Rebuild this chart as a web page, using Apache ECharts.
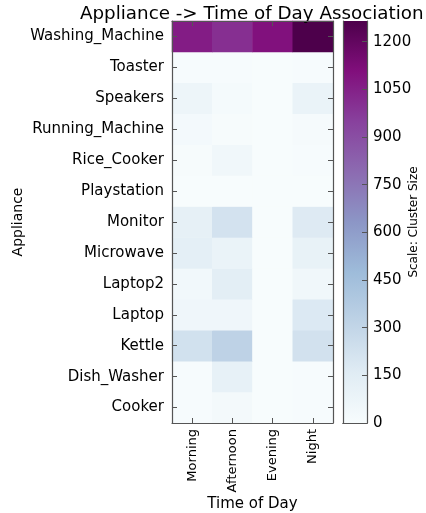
<!DOCTYPE html>
<html>
<head>
<meta charset="utf-8">
<script src="https://cdn.jsdelivr.net/npm/echarts@6/dist/echarts.min.js"></script>
<style>
  html, body { margin: 0; padding: 0; background: #ffffff; }
  #chart { width: 426px; height: 513px; }
</style>
</head>
<body>
<div id="chart"></div>
<script>
// 时段
const times = ['Morning', 'Afternoon', 'Evening', 'Night']
// 电器（从下往上）
const appliances = ['Cooker', 'Dish_Washer', 'Kettle', 'Laptop', 'Laptop2', 'Microwave', 'Monitor',
  'Playstation', 'Rice_Cooker', 'Running_Machine', 'Speakers', 'Toaster', 'Washing_Machine']

// 每个电器在四个时段的聚类大小
const cooker = [5, 30, 2, 5]
const dishWasher = [5, 110, 2, 5]
const kettle = [230, 320, 3, 225]
const laptop = [55, 55, 3, 175]
const laptop2 = [40, 140, 3, 45]
const microwave = [130, 90, 3, 100]
const monitor = [120, 220, 3, 170]
const playstation = [3, 3, 2, 3]
const riceCooker = [10, 45, 2, 8]
const runningMachine = [25, 10, 3, 15]
const speakers = [70, 20, 3, 90]
const toaster = [5, 5, 2, 5]
const washingMachine = [1065, 1005, 1100, 1265]

const rows = [cooker, dishWasher, kettle, laptop, laptop2, microwave, monitor,
  playstation, riceCooker, runningMachine, speakers, toaster, washingMachine]

// 色标刻度
const scaleMax = 1265
const scaleStep = 150

// BuPu 配色
const bupu = ['#f7fcfd', '#e0ecf4', '#bfd3e6', '#9ebcda', '#8c96c6', '#8c6bb1', '#88419d', '#810f7c', '#4d004b']

const heatData = []
rows.forEach((r, yi) => {
  r.forEach((v, xi) => {
    heatData.push([xi, yi, v])
  })
})

const font = 'DejaVu Sans'
const frame = { show: true, lineStyle: { color: '#555555', width: 1.2 } }
const inTick = { show: true, inside: true, length: 5, alignWithLabel: true, lineStyle: { color: '#555555' } }

const myChart = echarts.init(document.getElementById('chart'))

const options = {
  animation: false,
  textStyle: { fontFamily: font },
  title: {
    text: 'Appliance -> Time of Day Association',
    left: 75,
    top: 0,
    textStyle: { fontFamily: font, fontSize: 18.3, fontWeight: 'normal', color: '#000000' }
  },
  grid: [
    { left: 172, top: 21, width: 161, height: 402, outerBoundsMode: 'none', containLabel: false },
    { left: 343, top: 21, width: 24, height: 402, outerBoundsMode: 'none', containLabel: false }
  ],
  xAxis: [
    {
      type: 'category',
      gridIndex: 0,
      data: times,
      position: 'bottom',
      z: 10,
      axisLine: frame,
      axisTick: inTick,
      axisLabel: { rotate: 90, fontSize: 13, color: '#000000', margin: 6, fontFamily: font },
      name: 'Time of Day',
      nameLocation: 'middle',
      nameGap: 74,
      nameMoveOverlap: false,
      nameTextStyle: { fontSize: 15, color: '#000000', fontFamily: font },
      splitLine: { show: false }
    },
    {
      type: 'category',
      gridIndex: 0,
      data: times,
      position: 'top',
      z: 10,
      axisLine: frame,
      axisTick: inTick,
      axisLabel: { show: false }
    },
    {
      type: 'category',
      gridIndex: 1,
      data: ['scale'],
      z: 10,
      axisLine: frame,
      axisTick: { show: false },
      axisLabel: { show: false }
    },
    {
      type: 'category',
      gridIndex: 1,
      data: ['scale'],
      position: 'top',
      z: 10,
      axisLine: frame,
      axisTick: { show: false },
      axisLabel: { show: false }
    }
  ],
  yAxis: [
    {
      type: 'category',
      gridIndex: 0,
      data: appliances,
      position: 'left',
      z: 10,
      axisLine: frame,
      axisTick: inTick,
      axisLabel: { fontSize: 15, color: '#000000', margin: 8, fontFamily: font },
      name: 'Appliance',
      nameLocation: 'middle',
      nameGap: 147,
      nameRotate: 90,
      nameMoveOverlap: false,
      nameTextStyle: { fontSize: 14, color: '#000000', fontFamily: font },
      splitLine: { show: false }
    },
    {
      type: 'category',
      gridIndex: 0,
      data: appliances,
      position: 'right',
      z: 10,
      axisLine: frame,
      axisTick: inTick,
      axisLabel: { show: false }
    },
    {
      type: 'value',
      gridIndex: 1,
      min: 0,
      max: scaleMax,
      interval: scaleStep,
      position: 'right',
      z: 10,
      axisLine: frame,
      axisTick: { show: true, inside: true, length: 5, lineStyle: { color: '#555555' } },
      axisLabel: {
        fontSize: 15,
        color: '#000000',
        margin: 6,
        fontFamily: font,
        showMaxLabel: false,
        verticalAlign: 'middle',
        formatter: (v) => String(v)
      },
      splitLine: { show: false },
      name: 'Scale: Cluster Size',
      nameLocation: 'middle',
      nameGap: 41,
      nameRotate: 90,
      nameMoveOverlap: false,
      nameTextStyle: { fontSize: 12, color: '#000000', fontFamily: font }
    },
    {
      type: 'value',
      gridIndex: 1,
      min: 0,
      max: scaleMax,
      position: 'left',
      z: 10,
      axisLine: frame,
      axisTick: { show: false },
      axisLabel: { show: false },
      splitLine: { show: false }
    }
  ],
  visualMap: {
    show: false,
    min: 0,
    max: scaleMax,
    seriesIndex: 0,
    inRange: { color: bupu }
  },
  series: [
    {
      type: 'heatmap',
      xAxisIndex: 0,
      yAxisIndex: 0,
      data: heatData,
      itemStyle: { borderWidth: 0 },
      emphasis: { disabled: true }
    },
    {
      type: 'bar',
      xAxisIndex: 2,
      yAxisIndex: 2,
      data: [scaleMax],
      barWidth: '100%',
      silent: true,
      itemStyle: {
        color: new echarts.graphic.LinearGradient(0, 1, 0, 0,
          bupu.map((c, i) => ({ offset: i / (bupu.length - 1), color: c })))
      }
    }
  ]
}
myChart.setOption(options)
</script>
</body>
</html>
